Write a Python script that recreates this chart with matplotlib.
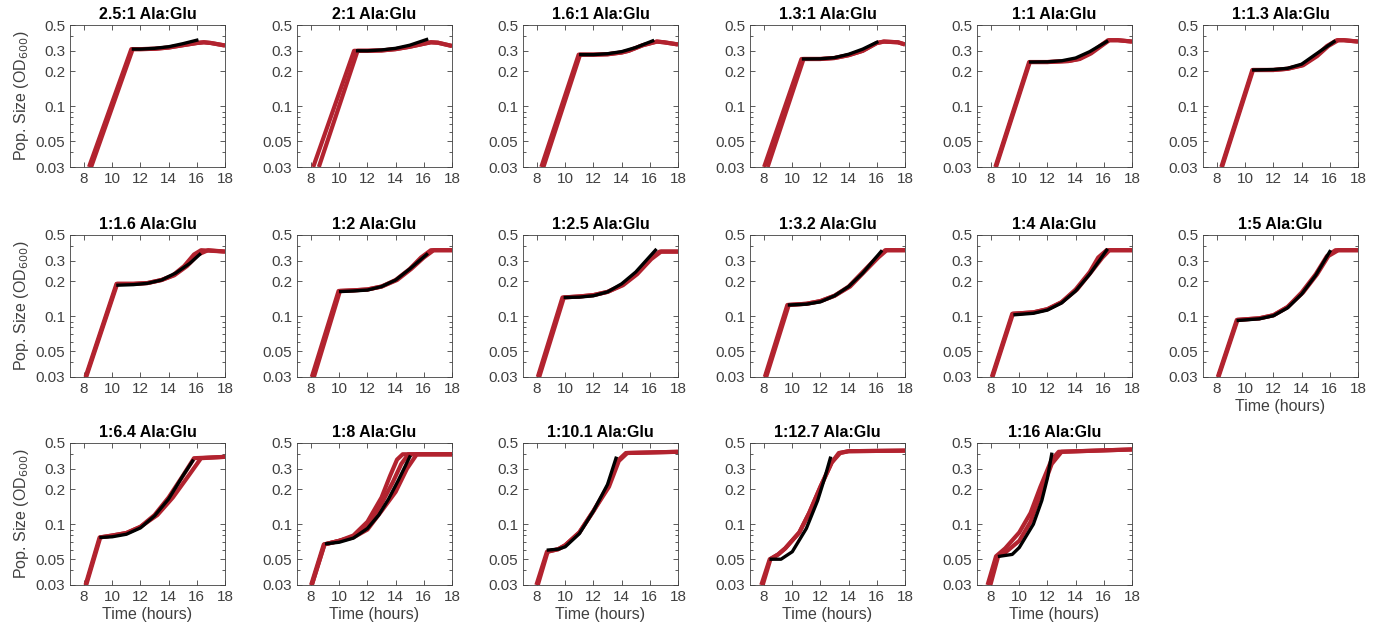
import matplotlib
matplotlib.use('Agg')
import matplotlib.pyplot as plt
from matplotlib.ticker import FixedLocator, NullFormatter

plt.rcParams['font.family'] = ['Liberation Sans', 'DejaVu Sans']

titles = ['2.5:1 Ala:Glu', '2:1 Ala:Glu', '1.6:1 Ala:Glu', '1.3:1 Ala:Glu', '1:1 Ala:Glu', '1:1.3 Ala:Glu',
          '1:1.6 Ala:Glu', '1:2 Ala:Glu', '1:2.5 Ala:Glu', '1:3.2 Ala:Glu', '1:4 Ala:Glu', '1:5 Ala:Glu',
          '1:6.4 Ala:Glu', '1:8 Ala:Glu', '1:10.1 Ala:Glu', '1:12.7 Ala:Glu', '1:16 Ala:Glu']

# measured replicates (red): per panel, list of (time, OD) curves
red_t = [
    [[8.35, 11.35, 12, 13, 14, 15, 16, 16.5, 17, 18],
     [8.5, 11.45, 12, 13, 14, 15, 16, 16.5, 17, 18]],
    [[8.15, 11.05, 12, 13, 14, 15, 16, 16.5, 17, 18],
     [8.55, 11.3, 12, 13, 14, 15, 16, 16.5, 17, 18]],
    [[8.3, 10.95, 12, 13, 14, 14.5, 15.5, 16.5, 17, 18],
     [8.45, 11.05, 12, 13, 14, 14.5, 15.5, 16.5, 17, 18]],
    [[8.0, 10.65, 12, 13, 14, 15, 16, 16.5, 17.5, 18],
     [8.25, 10.8, 12, 13, 14, 15, 16, 16.5, 17.5, 18]],
    [[8.3, 10.7, 12, 13.5, 14.2, 15, 15.8, 16.3, 17, 18],
     [8.35, 10.75, 12, 13.5, 14.3, 15.1, 15.9, 16.4, 17, 18]],
    [[8.3, 10.5, 12, 13, 14, 15, 15.8, 16.5, 17, 18],
     [8.35, 10.55, 12, 13, 14.1, 15.1, 15.9, 16.6, 17, 18]],
    [[8.1, 10.3, 11.5, 12.5, 13.5, 14.3, 15.1, 15.8, 16.3, 18],
     [8.15, 10.35, 11.5, 12.5, 13.5, 14.4, 15.3, 16.1, 16.8, 18]],
    [[8.05, 9.95, 11, 12, 13, 14, 15, 15.8, 16.5, 18],
     [8.2, 10.05, 11, 12, 13, 14.1, 15.1, 16.0, 16.7, 18]],
    [[8.05, 9.8, 11, 12, 13, 14, 15, 16, 16.7, 18],
     [8.15, 9.9, 11, 12, 13, 14.1, 15.1, 16.1, 16.8, 18]],
    [[8.05, 9.65, 11, 12, 13, 14, 15, 16, 16.6, 18],
     [8.15, 9.75, 11, 12, 13, 14.1, 15.1, 16.1, 16.7, 18]],
    [[8.05, 9.5, 11, 12, 13, 14, 15, 15.6, 16.2, 18],
     [8.1, 9.55, 11, 12, 13, 14.1, 15.1, 15.9, 16.4, 18]],
    [[8.05, 9.4, 11, 12, 13, 14, 15, 15.8, 16.4, 18],
     [8.1, 9.45, 11, 12, 13, 14.1, 15.1, 15.9, 16.6, 18]],
    [[8.1, 9.1, 10, 11, 12, 13, 14, 15, 15.8, 18],
     [8.15, 9.15, 10, 11, 12, 13.2, 14.3, 15.4, 16.3, 18]],
    [[8.0, 8.9, 10, 11, 12, 13, 13.6, 14.1, 14.5, 18],
     [8.05, 8.95, 10, 11, 12, 13, 13.8, 14.4, 14.9, 18],
     [8.05, 8.95, 10, 11, 12, 13, 14, 14.8, 15.5, 18]],
    [[7.95, 8.7, 9.5, 10, 11, 12, 13, 13.7, 14.3, 18],
     [8.05, 8.75, 9.5, 10, 11, 12, 13.1, 13.8, 14.4, 18]],
    [[7.8, 8.4, 9, 9.5, 10.5, 11.2, 12, 12.8, 13.3, 14, 18],
     [7.9, 8.45, 9, 9.5, 10.5, 11.2, 12, 12.8, 13.4, 14, 18]],
    [[7.75, 8.35, 9, 10, 10.8, 11.5, 12.3, 12.8, 18],
     [7.95, 8.5, 9, 10, 10.8, 11.5, 12.3, 13.0, 18]],
]
red_od = [
    [[0.03, 0.31, 0.31, 0.312, 0.32, 0.335, 0.35, 0.355, 0.35, 0.333],
     [0.03, 0.31, 0.31, 0.312, 0.32, 0.335, 0.35, 0.355, 0.35, 0.333]],
    [[0.03, 0.30, 0.30, 0.302, 0.31, 0.325, 0.345, 0.355, 0.352, 0.33],
     [0.03, 0.30, 0.30, 0.302, 0.31, 0.325, 0.345, 0.355, 0.352, 0.33]],
    [[0.03, 0.278, 0.278, 0.28, 0.29, 0.30, 0.335, 0.36, 0.355, 0.34],
     [0.03, 0.278, 0.278, 0.28, 0.29, 0.30, 0.335, 0.36, 0.355, 0.34]],
    [[0.03, 0.255, 0.255, 0.26, 0.275, 0.30, 0.35, 0.36, 0.355, 0.34],
     [0.03, 0.255, 0.255, 0.26, 0.275, 0.30, 0.35, 0.36, 0.355, 0.34]],
    [[0.03, 0.24, 0.24, 0.245, 0.255, 0.285, 0.335, 0.37, 0.37, 0.36],
     [0.03, 0.24, 0.24, 0.245, 0.255, 0.285, 0.335, 0.37, 0.37, 0.36]],
    [[0.03, 0.205, 0.205, 0.21, 0.225, 0.27, 0.33, 0.37, 0.37, 0.36],
     [0.03, 0.205, 0.205, 0.21, 0.225, 0.27, 0.33, 0.37, 0.37, 0.36]],
    [[0.03, 0.19, 0.19, 0.193, 0.205, 0.225, 0.27, 0.34, 0.37, 0.36],
     [0.03, 0.19, 0.19, 0.193, 0.205, 0.225, 0.27, 0.34, 0.37, 0.36]],
    [[0.03, 0.165, 0.167, 0.17, 0.18, 0.205, 0.255, 0.32, 0.37, 0.37],
     [0.03, 0.165, 0.167, 0.17, 0.18, 0.205, 0.255, 0.32, 0.37, 0.37]],
    [[0.03, 0.145, 0.148, 0.152, 0.162, 0.185, 0.23, 0.31, 0.36, 0.36],
     [0.03, 0.145, 0.148, 0.152, 0.162, 0.185, 0.23, 0.31, 0.36, 0.36]],
    [[0.03, 0.125, 0.128, 0.135, 0.15, 0.18, 0.24, 0.32, 0.37, 0.37],
     [0.03, 0.125, 0.128, 0.135, 0.15, 0.18, 0.24, 0.32, 0.37, 0.37]],
    [[0.03, 0.105, 0.108, 0.115, 0.132, 0.17, 0.24, 0.32, 0.37, 0.37],
     [0.03, 0.105, 0.108, 0.115, 0.132, 0.17, 0.24, 0.32, 0.37, 0.37]],
    [[0.03, 0.093, 0.096, 0.102, 0.12, 0.16, 0.23, 0.33, 0.37, 0.37],
     [0.03, 0.093, 0.096, 0.102, 0.12, 0.16, 0.23, 0.33, 0.37, 0.37]],
    [[0.03, 0.077, 0.08, 0.084, 0.095, 0.12, 0.17, 0.26, 0.37, 0.38],
     [0.03, 0.077, 0.08, 0.084, 0.095, 0.12, 0.17, 0.26, 0.37, 0.38]],
    [[0.03, 0.067, 0.072, 0.08, 0.105, 0.17, 0.26, 0.36, 0.40, 0.40],
     [0.03, 0.067, 0.072, 0.078, 0.098, 0.15, 0.23, 0.33, 0.40, 0.40],
     [0.03, 0.067, 0.072, 0.077, 0.09, 0.13, 0.19, 0.30, 0.40, 0.40]],
    [[0.03, 0.058, 0.061, 0.066, 0.085, 0.13, 0.21, 0.35, 0.41, 0.42],
     [0.03, 0.058, 0.061, 0.066, 0.085, 0.13, 0.21, 0.35, 0.41, 0.42]],
    [[0.03, 0.05, 0.055, 0.062, 0.085, 0.125, 0.21, 0.34, 0.41, 0.425, 0.43],
     [0.03, 0.05, 0.055, 0.062, 0.085, 0.125, 0.21, 0.34, 0.41, 0.425, 0.43]],
    [[0.03, 0.053, 0.062, 0.085, 0.125, 0.21, 0.36, 0.42, 0.44],
     [0.03, 0.053, 0.057, 0.072, 0.105, 0.18, 0.33, 0.42, 0.44]],
]

# model fits (black)
fit_t = [
    [11.5, 12, 13, 14, 15, 16],
    [11.3, 12, 13, 14, 15, 16.2],
    [11.1, 12, 13, 14, 15, 16.2],
    [10.8, 12, 13, 14, 15, 16.0],
    [10.8, 12, 13, 14, 15, 16.2],
    [10.6, 12, 13, 14, 15, 16.3],
    [10.4, 11.5, 12.5, 13.5, 14.5, 15.5, 16.2],
    [10.1, 11, 12, 13, 14, 15, 16.2],
    [10.0, 11, 12, 13, 14, 15, 16.4],
    [9.8, 11, 12, 13, 14, 15, 16.3],
    [9.7, 11, 12, 13, 14, 15, 16.2],
    [9.5, 11, 12, 13, 14, 15, 16.0],
    [9.2, 10, 11, 12, 13, 14, 15, 15.7],
    [9.1, 10, 11, 12, 12.8, 13.5, 14.2, 15.0],
    [8.8, 9.5, 10, 11, 12, 13, 13.6],
    [8.5, 9.2, 10, 11, 11.8, 12.3, 12.7],
    [8.6, 9.5, 10, 11, 11.6, 12.0, 12.3],
]
fit_od = [
    [0.31, 0.31, 0.315, 0.325, 0.345, 0.37],
    [0.30, 0.30, 0.305, 0.315, 0.335, 0.375],
    [0.278, 0.278, 0.283, 0.295, 0.32, 0.365],
    [0.255, 0.256, 0.262, 0.28, 0.31, 0.355],
    [0.24, 0.241, 0.246, 0.26, 0.295, 0.36],
    [0.205, 0.207, 0.212, 0.23, 0.28, 0.36],
    [0.185, 0.187, 0.192, 0.205, 0.235, 0.285, 0.34],
    [0.163, 0.165, 0.168, 0.18, 0.205, 0.255, 0.34],
    [0.145, 0.146, 0.15, 0.162, 0.19, 0.24, 0.37],
    [0.125, 0.127, 0.133, 0.15, 0.18, 0.235, 0.36],
    [0.103, 0.106, 0.113, 0.13, 0.165, 0.23, 0.37],
    [0.092, 0.095, 0.101, 0.118, 0.155, 0.225, 0.36],
    [0.077, 0.078, 0.082, 0.093, 0.118, 0.165, 0.26, 0.35],
    [0.068, 0.07, 0.076, 0.092, 0.12, 0.165, 0.24, 0.38],
    [0.06, 0.061, 0.064, 0.083, 0.13, 0.22, 0.37],
    [0.05, 0.05, 0.058, 0.092, 0.16, 0.25, 0.37],
    [0.053, 0.055, 0.063, 0.10, 0.16, 0.25, 0.40],
]

yticks = [0.03, 0.05, 0.1, 0.2, 0.3, 0.5]
xticks = [8, 10, 12, 14, 16, 18]

W, H = 1382, 632
fig = plt.figure(figsize=(W / 100, H / 100), dpi=100)
lefts = [70, 297, 523, 750, 977, 1203]
tops = [25, 235, 443]
aw, ah = 155, 142

red = '#B2232F'
for i, title in enumerate(titles):
    r, c = divmod(i, 6)
    ax = fig.add_axes([lefts[c] / W, 1 - (tops[r] + ah) / H, aw / W, ah / H])
    for t, od in zip(red_t[i], red_od[i]):
        ax.plot(t, od, color=red, lw=3.0, solid_capstyle='butt')
    ax.plot(fit_t[i], fit_od[i], color='black', lw=2.4)
    ax.set_yscale('log')
    ax.set_ylim(0.03, 0.5)
    ax.set_xlim(7, 18)
    ax.yaxis.set_major_locator(FixedLocator(yticks))
    ax.set_yticklabels([str(v) for v in yticks])
    ax.yaxis.set_minor_formatter(NullFormatter())
    ax.set_xticks(xticks)
    ax.tick_params(which='both', direction='in', top=True, right=True,
                   labelsize=11, labelcolor='#404040', color='#404040', width=0.6)
    ax.tick_params(which='major', length=3.5)
    ax.tick_params(which='minor', length=2)
    for s in ax.spines.values():
        s.set_color('#404040')
        s.set_linewidth(0.6)
    ax.set_title(title, fontsize=11.5, fontweight='bold', pad=4)
    if c == 0:
        ax.set_ylabel('Pop. Size (OD$_{600}$)', fontsize=11.5, color='#404040', labelpad=3)
    if r == 2 or i == 11:
        ax.set_xlabel('Time (hours)', fontsize=11.5, color='#404040', labelpad=2)

fig.savefig('out.png', dpi=100)
